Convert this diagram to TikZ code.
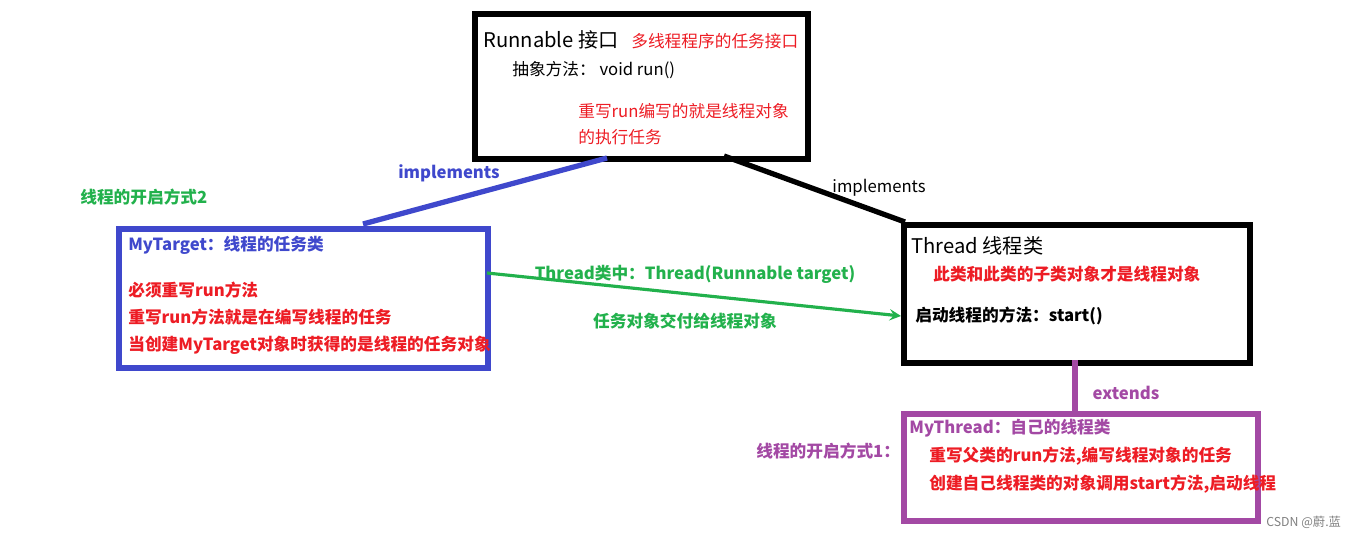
\documentclass[tikz,border=0pt]{standalone}
\usepackage{fontspec}
\setmainfont{Noto Sans CJK SC}
\usetikzlibrary{positioning}
\definecolor{myblue}{RGB}{63,72,204}
\definecolor{mygreen}{RGB}{34,177,76}
\definecolor{mypurple}{RGB}{163,73,164}
\definecolor{myred}{RGB}{237,28,36}
\tikzset{box/.style={draw,line width=3.5pt,inner sep=0pt},
  txt/.style={anchor=west,inner sep=0pt,font=\fontsize{9.5}{11}\selectfont},
  btxt/.style={txt,font=\fontsize{9.5}{11}\selectfont\bfseries}}
\begin{document}
\begin{tikzpicture}[x=0.02cm,y=-0.02cm,>=stealth]
    \useasboundingbox (0,0) rectangle (1359,537);
    % boxes
    \node[box,minimum width=6.66cm,minimum height=2.9cm,anchor=north west] (run) at (472,11) {};
    \node[box,draw=myblue,minimum width=7.38cm,minimum height=2.78cm,anchor=north west] (target) at (116,226) {};
    \node[box,minimum width=6.92cm,minimum height=2.76cm,anchor=north west] (thread) at (901,222) {};
    \node[box,draw=mypurple,minimum width=7.08cm,minimum height=2.14cm,anchor=north west] (mythread) at (901,411) {};

    % texts
    \node[txt,font=\fontsize{11.5}{13}\selectfont] (t1) at (483,40) {Runnable 接口};
    \node[txt,text=myred] (t2) at (631,41) {多线程程序的任务接口};
    \node[txt] (t3) at (512,70) {抽象方法： void run()};
    \node[txt,text=myred] (t4) at (578,111) {重写run编写的就是线程对象};
    \node[txt,text=myred] (t5) at (578,137) {的执行任务};

    \node[btxt,text=myblue] (m1) at (128,245) {MyTarget：线程的任务类};
    \node[btxt,text=myred] (m2) at (128,290) {必须重写run方法};
    \node[btxt,text=myred] (m3) at (128,317) {重写run方法就是在编写线程的任务};
    \node[btxt,text=myred] (m4) at (128,345) {当创建MyTarget对象时获得的是线程的任务对象};

    \node[txt,font=\fontsize{11.5}{13}\selectfont] (h1) at (911,246) {Thread 线程类};
    \node[btxt,text=myred] (h2) at (933,274) {此类和此类的子类对象才是线程对象};
    \node[btxt] (h3) at (915,316) {启动线程的方法：start()};

    \node[btxt,text=mypurple] (p1) at (909,428) {MyThread：自己的线程类};
    \node[btxt,text=myred] (p2) at (929,456) {重写父类的run方法,编写线程对象的任务};
    \node[btxt,text=myred] (p3) at (929,484) {创建自己线程类的对象调用start方法,启动线程};

    \node[btxt,text=mygreen] (way2) at (80,197) {线程的开启方式2};
    \node[btxt,text=mypurple] (way1) at (756,451) {线程的开启方式1：};
    \node[txt,text=gray,font=\fontsize{7}{8}\selectfont] (csdn) at (1266,522) {CSDN @蔚.蓝};

    % connectors
    \coordinate (rb) at (607,158);
    \coordinate (tt) at (363,224);
    \coordinate (rk) at (724,156);
    \coordinate (ht) at (905,222);
    \coordinate (ta) at (487,273);
    \coordinate (ha) at (901,316);
    \coordinate (hb) at (1075,360);
    \coordinate (pt) at (1075,411);
    \draw[myblue,line width=3pt] (rb) -- (tt);
    \node[btxt,text=myblue,anchor=center] (imp1) at (449,173) {implements};
    \draw[line width=3pt] (rk) -- (ht);
    \node[txt,anchor=center] (imp2) at (879,188) {implements};
    \draw[->,mygreen,line width=1.8pt] (ta) -- (ha);
    \node[btxt,text=mygreen,anchor=center] (g1) at (695,274) {Thread类中：Thread(Runnable target)};
    \node[btxt,text=mygreen,anchor=center] (g2) at (685,321) {任务对象交付给线程对象};
    \draw[mypurple,line width=3pt] (hb) -- (pt);
    \node[btxt,text=mypurple,anchor=center] (ext) at (1126,393) {extends};
\end{tikzpicture}
\end{document}
